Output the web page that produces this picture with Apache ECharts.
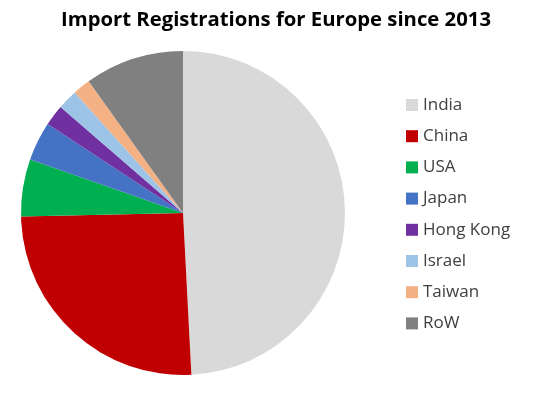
<!DOCTYPE html>
<html><head><meta charset="utf-8">
<script src="https://cdn.jsdelivr.net/npm/echarts@6/dist/echarts.min.js"></script>
<style>html,body{margin:0;padding:0;background:#fff}#c{width:552px;height:394px}</style>
</head><body><div id="c"></div>
<script>
const categories = ["India","China","USA","Japan","Hong Kong","Israel","Taiwan","RoW"];
const shares = [49.2, 25.5, 5.7, 3.9, 2.1, 2.0, 1.75, 9.9];
const colors = ["#D9D9D9","#C00000","#00B050","#4472C4","#7030A0","#9DC3E6","#F4B183","#808080"];
const chart = echarts.init(document.getElementById('c'));
chart.setOption({
  animation: false,
  title: {
    text: "Import Registrations for Europe since 2013",
    left: 'center', top: 5,
    textStyle: {fontFamily: 'Open Sans', fontWeight: 'bold', fontSize: 20.3, color: '#000'}
  },
  legend: {
    orient: 'vertical', left: 401, top: 91.5,
    itemWidth: 12, itemHeight: 12, itemGap: 14.2,
    icon: 'rect',
    textStyle: {fontFamily: 'Open Sans', fontSize: 17, color: '#404040'},
    data: categories
  },
  color: colors,
  series: [{
    type: 'pie',
    center: [183, 213], radius: 162,
    startAngle: 90, clockwise: true,
    label: {show: false}, labelLine: {show: false},
    emphasis: {disabled: true},
    data: categories.map((n, i) => ({name: n, value: shares[i]}))
  }]
});
</script></body></html>
